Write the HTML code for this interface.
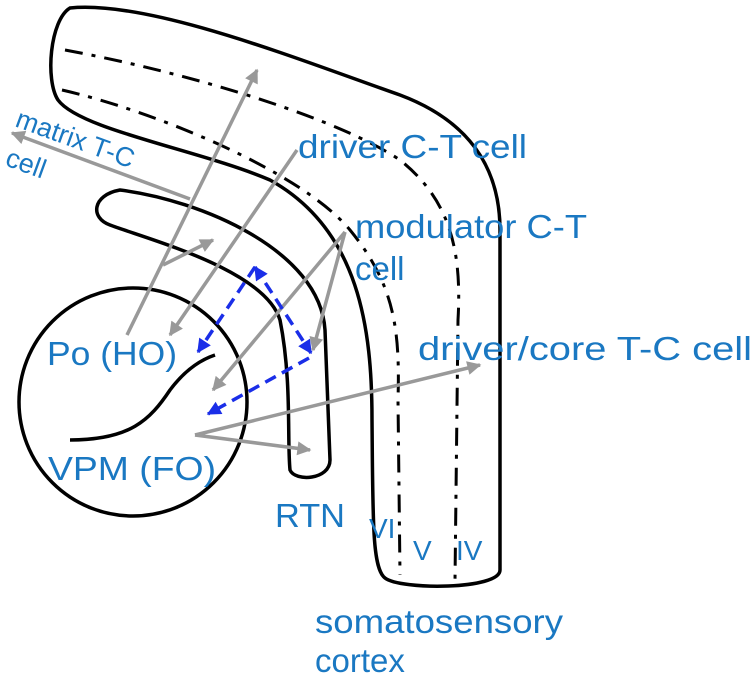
<!DOCTYPE html>
<html><head><meta charset="utf-8"><style>
html,body{margin:0;padding:0;background:#fff}
svg{display:block}
text{font-family:"Liberation Sans",sans-serif;fill:#1a78c2}
</style></head><body>
<svg width="756" height="684" viewBox="0 0 756 684" xmlns="http://www.w3.org/2000/svg">
<defs>
<marker id="ga" viewBox="0 0 10 10" refX="9" refY="5" markerWidth="16" markerHeight="14" orient="auto" markerUnits="userSpaceOnUse"><path d="M0,0 L10,5 L0,10 Z" fill="#999"/></marker>
<marker id="ba" viewBox="0 0 10 10" refX="9" refY="5" markerWidth="16" markerHeight="14" orient="auto" markerUnits="userSpaceOnUse"><path d="M0,0 L10,5 L0,10 Z" fill="#1a2ee8"/></marker>
<marker id="bs" viewBox="0 0 10 10" refX="1" refY="5" markerWidth="16" markerHeight="14" orient="auto" markerUnits="userSpaceOnUse"><path d="M10,0 L0,5 L10,10 Z" fill="#1a2ee8"/></marker>
</defs>
<g fill="none" stroke="#000" stroke-width="3.5">
<path d="M70,8 C150,0 300,60 400,95 C480,125 500,180 500,230 L500,570 C500,590 400,590 385,578 C372,568 373,520 372,420 C372,330 360,230 270,180 C200,150 80,130 58,100 C45,80 50,20 70,8 Z"/>
<path d="M120,190 C200,200 320,250 325,330 L330,460 C330,480 295,482 290,470 C287,440 292,380 280,320 C265,270 150,240 110,225 C90,218 92,195 120,190 Z"/>
<circle cx="133" cy="402" r="114"/>
<path d="M70,440 C130,440 150,420 170,390 C185,370 200,360 215,355"/>
<g stroke-width="3" stroke-dasharray="18,9,4,9">
<path d="M65,50 C200,75 340,120 400,160 C450,200 462,250 458,320 L455,580"/>
<path d="M62,90 C150,110 300,170 350,230 C395,285 400,330 398,400 L400,575"/>
</g>
</g>
<g stroke="#999" stroke-width="3.5" fill="none">
<line x1="127" y1="335" x2="257" y2="70" marker-end="url(#ga)"/>
<line x1="190" y1="199" x2="12" y2="133" marker-end="url(#ga)"/>
<line x1="163" y1="265" x2="213" y2="240" marker-end="url(#ga)"/>
<line x1="297" y1="150" x2="170" y2="335" marker-end="url(#ga)"/>
<line x1="345" y1="232" x2="213" y2="390" marker-end="url(#ga)"/>
<line x1="345" y1="232" x2="313" y2="350" marker-end="url(#ga)"/>
<line x1="195" y1="435" x2="480" y2="365" marker-end="url(#ga)"/>
<line x1="195" y1="435" x2="310" y2="450" marker-end="url(#ga)"/>
</g>
<g stroke="#1a2ee8" stroke-width="3.5" fill="none" stroke-dasharray="12,7">
<line x1="255" y1="267" x2="198" y2="352" marker-end="url(#ba)"/>
<line x1="255" y1="267" x2="311" y2="353" marker-end="url(#ba)" marker-start="url(#bs)"/>
<line x1="309" y1="358" x2="208" y2="414" marker-end="url(#ba)"/>
</g>
<g font-size="33">
<text x="298" y="158" textLength="229" lengthAdjust="spacingAndGlyphs">driver C-T cell</text>
<text x="355" y="238" textLength="232" lengthAdjust="spacingAndGlyphs">modulator C-T</text>
<text x="355" y="280">cell</text>
<text x="418" y="360" textLength="334" lengthAdjust="spacingAndGlyphs">driver/core T-C cell</text>
<text x="47" y="365" textLength="130" lengthAdjust="spacingAndGlyphs">Po (HO)</text>
<text x="48" y="480" textLength="168" lengthAdjust="spacingAndGlyphs">VPM (FO)</text>
<text x="275" y="527" textLength="70" lengthAdjust="spacingAndGlyphs">RTN</text>
<text x="315" y="633" textLength="248" lengthAdjust="spacingAndGlyphs">somatosensory</text>
<text x="315" y="672">cortex</text>
</g>
<text x="369" y="538" font-size="28">VI</text>
<text x="413" y="560" font-size="28">V</text>
<text x="456" y="560" font-size="28">IV</text>
<text x="14" y="126" font-size="27" transform="rotate(20 14 126)">matrix T-C</text>
<text x="4" y="165" font-size="27" transform="rotate(20 4 165)">cell</text>
</svg>
</body></html>
